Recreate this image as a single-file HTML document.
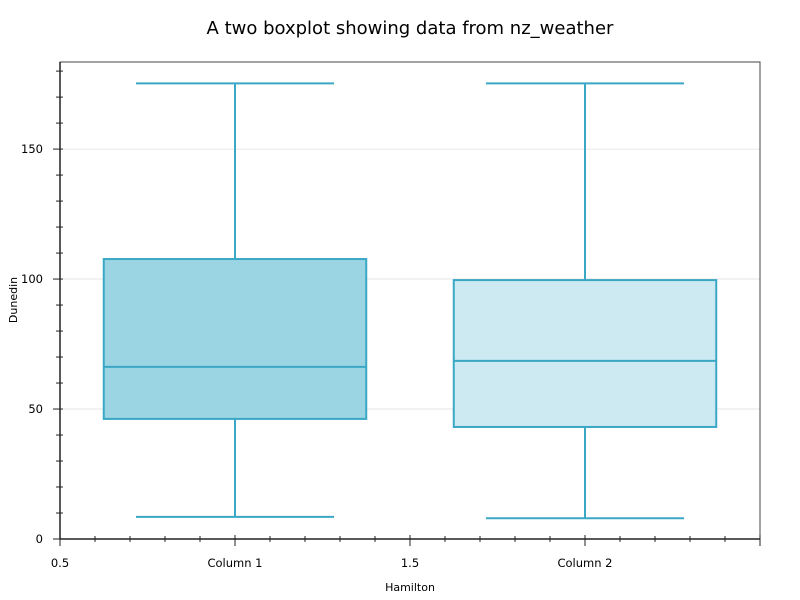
<!DOCTYPE html>
<html><head><meta charset="utf-8"><style>body{margin:0;background:#fff}svg{display:block;font-family:"DejaVu Sans","Liberation Sans",sans-serif}</style></head>
<body>
<svg id="chart" width="800" height="600">
<rect width="800" height="600" fill="#fff"/>
<text x="410" y="34" font-size="18" text-anchor="middle">A two boxplot showing data from nz_weather</text>
<g id="grid"></g><g id="boxes"></g><g id="axes"></g>
<text x="410" y="591" font-size="11" text-anchor="middle">Hamilton</text>
<text x="17" y="300" font-size="11" text-anchor="middle" transform="rotate(-90 17 300)">Dunedin</text>
</svg>
<script>
const categories=["Column 1","Column 2"];
const whiskerLow=[8.5,8];
const q1=[46.2,43.1];
const median=[66.2,68.5];
const q3=[107.7,99.6];
const whiskerHigh=[175.3,175.3];
const yTicks=[0,50,100,150];
const xTickLabels=["0.5","Column 1","1.5","Column 2"];
const xTickVals=[0.5,1,1.5,2];
const fills=["#9bd4e3","#cde9f1"];
const NS="http://www.w3.org/2000/svg";
const L=60,R=760,T=62,B=539,xMin=0.5,xMax=2.5,yMin=0,yMax=183.5;
const X=v=>L+(v-xMin)/(xMax-xMin)*(R-L);
const Y=v=>B-(v-yMin)/(yMax-yMin)*(B-T);
function mk(tag,attrs,parent){const e=document.createElementNS(NS,tag);for(const k in attrs)e.setAttribute(k,attrs[k]);document.getElementById(parent).appendChild(e);return e;}
yTicks.forEach(v=>{if(v===0)return;const g=mk('line',{x1:L,x2:R,y1:Y(v),y2:Y(v),stroke:'#e6e6e6','stroke-width':1},'grid');

});
const bw=0.75,cw=0.566;
categories.forEach((c,i)=>{const cx=X(i+1),hw=bw/2*(X(1)-X(0)),cap=cw/2*(X(1)-X(0));
const st={stroke:'#3aa8c4','stroke-width':2,fill:'none'};
const w1=mk('line',Object.assign({x1:cx,x2:cx,y1:Y(whiskerLow[i]),y2:Y(q1[i])},st),'boxes');


const w2=mk('line',Object.assign({x1:cx,x2:cx,y1:Y(q3[i]),y2:Y(whiskerHigh[i])},st),'boxes');


const c1=mk('line',Object.assign({x1:cx-cap,x2:cx+cap,y1:Y(whiskerLow[i]),y2:Y(whiskerLow[i])},st),'boxes');


const c2=mk('line',Object.assign({x1:cx-cap,x2:cx+cap,y1:Y(whiskerHigh[i]),y2:Y(whiskerHigh[i])},st),'boxes');


const b=mk('rect',{x:cx-hw,y:Y(q3[i]),width:2*hw,height:Y(q1[i])-Y(q3[i]),fill:fills[i],stroke:'#3aa8c4','stroke-width':2},'boxes');


const m=mk('line',Object.assign({x1:cx-hw,x2:cx+hw,y1:Y(median[i]),y2:Y(median[i])},st),'boxes');

});
const fr=mk('rect',{x:L,y:T,width:R-L,height:B-T,fill:'none',stroke:'#444','stroke-width':1},'axes');


const ya=mk('line',{x1:L,x2:L,y1:T,y2:B,stroke:'#222','stroke-width':1.5},'axes');


const xa=mk('line',{x1:L,x2:R,y1:B,y2:B,stroke:'#222','stroke-width':1.5},'axes');


for(let v=0;v<=180;v+=10){const maj=v%50===0;const t=mk('line',{x1:maj?53:56,x2:63,y1:Y(v),y2:Y(v),stroke:'#222','stroke-width':1},'axes');

}
yTicks.forEach(v=>{const t=mk('text',{x:43,y:Y(v)+4,'font-size':11.5,'text-anchor':'end'},'axes');t.textContent=v;

});
for(let k=0;k<=20;k++){const v=0.5+k*0.1;const maj=k%5===0;const t=mk('line',{x1:X(v),x2:X(v),y1:maj?535:536,y2:maj?546:542,stroke:'#222','stroke-width':1},'axes');

}
xTickVals.forEach((v,i)=>{const t=mk('text',{x:X(v),y:567,'font-size':11.5,'text-anchor':'middle'},'axes');t.textContent=xTickLabels[i];

});
</script>
</body></html>
